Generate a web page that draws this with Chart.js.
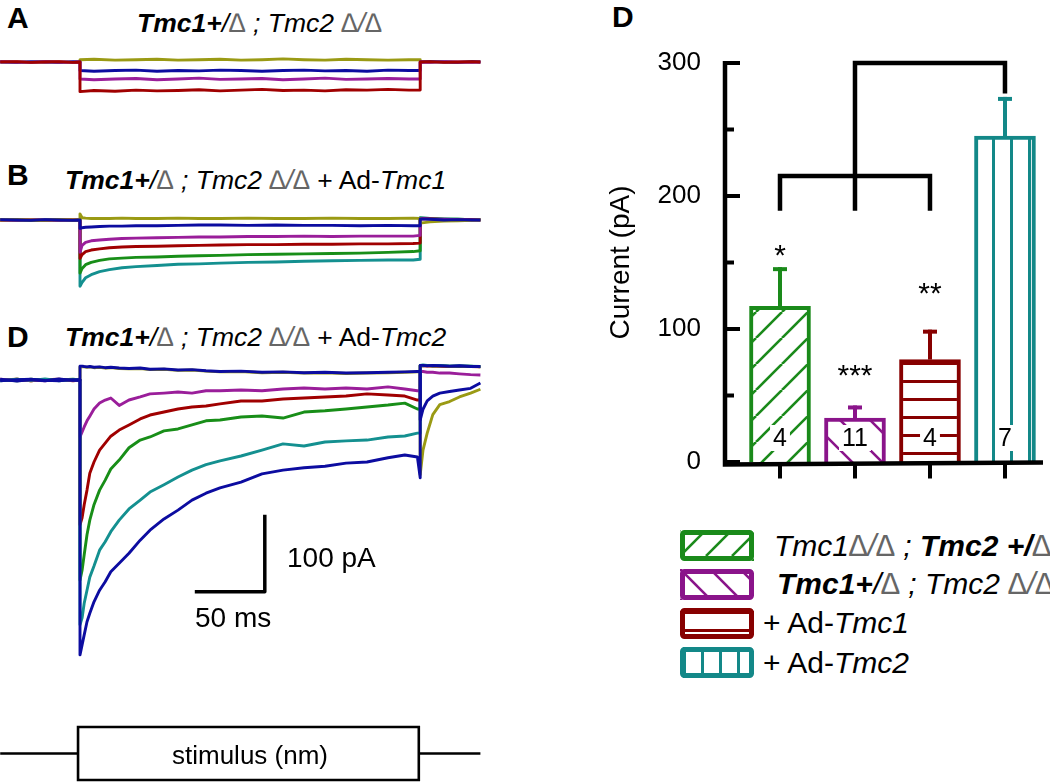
<!DOCTYPE html>
<html><head><meta charset="utf-8">
<script src="https://cdn.jsdelivr.net/npm/chart.js@4.4.1/dist/chart.umd.min.js"></script>
<style>
html,body{margin:0;padding:0;background:#fff}
body{width:1050px;height:783px;position:relative;overflow:hidden;font-family:"Liberation Sans",Arial,sans-serif;color:#000}
canvas{position:absolute;display:block}
.t{position:absolute;white-space:nowrap;line-height:1}
.lbl{font-weight:bold;font-size:30px}
.ttl{font-size:26.5px}
.lg{font-size:30px}
.dl{font-weight:normal;color:#666;font-style:italic;font-size:1.02em}
i{font-style:italic}
</style></head>
<body>
<!-- left panels -->
<div class="t lbl" style="left:7px;top:3px">A</div>
<div class="t ttl" style="left:137px;top:10px"><b><i>Tmc1+</i></b><i>/</i><span class="dl">∆</span><i> ; Tmc2 </i><span class="dl">∆/∆</span></div>
<canvas id="cA" width="490" height="70" style="left:0;top:40px"></canvas>

<div class="t lbl" style="left:7px;top:160px">B</div>
<div class="t ttl" style="left:65px;top:167px"><b><i>Tmc1+</i></b><i>/</i><span class="dl">∆</span><i> ; Tmc2 </i><span class="dl">∆/∆</span> + Ad-<i>Tmc1</i></div>
<canvas id="cB" width="490" height="110" style="left:0;top:200px"></canvas>

<div class="t lbl" style="left:7px;top:322px">D</div>
<div class="t ttl" style="left:65px;top:324px"><b><i>Tmc1+</i></b><i>/</i><span class="dl">∆</span><i> ; Tmc2 </i><span class="dl">∆/∆</span> + Ad-<i>Tmc2</i></div>
<canvas id="cD" width="490" height="320" style="left:0;top:350px"></canvas>
<div class="t" style="left:287px;top:544px;font-size:28px">100 pA</div>
<div class="t" style="left:195px;top:604px;font-size:28px">50 ms</div>

<canvas id="cS" width="490" height="68" style="left:0;top:715px"></canvas>
<div class="t" style="left:150px;width:200px;text-align:center;top:742px;font-size:26px">stimulus (nm)</div>

<!-- right panel -->
<div class="t lbl" style="left:612px;top:2px">D</div>
<canvas id="cBar" width="450" height="500" style="left:600px;top:0"></canvas>

<canvas id="sw0" width="74" height="31" style="left:680px;top:530px"></canvas>
<canvas id="sw1" width="74" height="31" style="left:680px;top:569px"></canvas>
<canvas id="sw2" width="74" height="31" style="left:680px;top:608px"></canvas>
<canvas id="sw3" width="74" height="31" style="left:680px;top:647px"></canvas>
<div class="t lg" style="left:774px;top:530px"><i>Tmc1</i><span class="dl">∆/∆</span><i> ; </i><b><i>Tmc2 +/</i></b><span class="dl">∆</span></div>
<div class="t lg" style="left:777px;top:568px"><b><i>Tmc1+</i></b><i>/</i><span class="dl">∆</span><i> ; Tmc2 </i><span class="dl">∆/∆</span></div>
<div class="t lg" style="left:763px;top:608px">+ Ad-<i>Tmc1</i></div>
<div class="t lg" style="left:763px;top:648px">+ Ad-<i>Tmc2</i></div>

<script>
// ================= DATA =================
// Panel A: Tmc1+/Δ ; Tmc2 Δ/Δ  (time in ms, current in pA)
const timeA = [-57,-45,-35,-25,-15,-5,0, 0,10,25,40,55,70,85,100,115,130,145,160,175,190,205,220,235,243, 243,250,260,270,280,286];
const redA    = [0,0.5,-0.5,0,0.5,-0.5,0, -38.5,-37,-38,-36.5,-37.5,-37,-36,-37.5,-36.5,-35.5,-37,-36.5,-37.5,-36,-36.5,-35.5,-36.5,-36.5, 0,0.5,-0.5,0,0.5,0];
const purpleA = [0.5,0,-0.5,0.5,0,-0.5,0, -22,-23,-22,-21.5,-23,-22,-21,-22.5,-22,-21.5,-23,-22,-21,-22.5,-22,-21.5,-22,-22, 0,-0.5,0.5,0,-0.5,0];
const blueA   = [0,-0.5,0.5,0,-0.5,0.5,0, -11,-12,-11,-10.5,-12,-11,-11.5,-10.5,-11,-12,-11,-10.5,-11.5,-11,-12,-10.5,-11,-11, 0,0.5,0,-0.5,0.5,0];
const oliveA  = [0.5,0,-0.5,0.5,0,-0.5,0, 3,3.5,2.5,3,3.5,2.5,3,3.5,2.5,3,4,3,2.5,3.5,3,2.5,3,3, 0.5,0,0.5,-0.5,0,0];

// Panel B: + Ad-Tmc1
const timeB = [-57,-45,-35,-25,-15,-5,0, 0,1.5,4,8,14,21,30,40,55,70,85,100,120,140,160,180,200,220,238,243, 243,250,260,270,280,286];
const tealB   = [0.5,-0.5,0,0.5,-0.5,0.5,0, -86,-81,-75,-71,-67,-64.5,-62,-60.5,-59,-57.5,-57,-56,-55,-54.5,-53.5,-53,-52.5,-52,-52,-51, 3,2,1.5,1,0.5,0];
const greenB  = [0,0.5,-0.5,0,0.5,-0.5,0, -69,-63,-58,-55,-52.5,-50.5,-49.5,-48.5,-48,-47,-46.5,-46,-45,-44.5,-44,-43.5,-43,-42,-41,-40, 2.5,2,1,1,0.5,0.5];
const redB    = [-0.5,0,0.5,-0.5,0,0.5,0, -50,-45,-41,-39,-37.5,-36,-35,-34.5,-34,-33.5,-33,-32.5,-32,-32,-31.5,-31.5,-31,-31,-30.5,-30, 2,1.5,0.5,0,0.5,0];
const purpleB = [0,-0.5,0.5,0,-0.5,0,0, -42,-33,-29,-27,-26,-25,-24,-23.5,-23,-22.5,-22,-22,-21.5,-21.5,-21,-21.5,-21,-21,-21,-20, 2,1.5,1,0.5,0,0];
const blueB   = [0.5,0,-0.5,0.5,0,-0.5,0, -11,-10,-9.5,-9,-8.5,-8,-8,-7.5,-7.5,-7,-6.5,-6.5,-7,-6.5,-7,-7,-7.5,-7,-7.5,-7.5, 1.5,1,0,0.5,0,0];
const oliveB  = [0,0.5,0,-0.5,0.5,0,0, 8,3,2.5,2,2,2,2.5,2,2,2.5,2,2,2.5,2,2,2.5,2,2,2.5,2, -4,-2.5,-1.5,-1,-0.5,0];

// Panel D: + Ad-Tmc2
const timeD = [-57,-45,-35,-25,-15,-5,0,
  0,1.5,3,5,7,10,14,18,22,28,35,43,50,60,70,80,90,100,115,130,145,160,175,190,205,220,232,241,243,
  243,245,248,252,257,264,271,279,286];
const bigBlueD = [1,-1.5,0.5,-1,1.5,-0.5,0,
  -357,-344,-331,-314,-303,-288,-273,-262,-249,-238,-225,-208,-195,-180.5,-169,-156,-147,-140,-132.5,-122,-117,-114,-112,-108,-106.5,-101,-97.4,-100,-127,
  19,19,18.5,19,18.5,18,18.5,17.5,17.5];
const tealD = [-1,1,-0.5,1.5,-1,0.5,0,
  -318,-309,-290,-273,-256,-241.6,-221,-210,-197,-182,-167.5,-156,-145.5,-136,-126,-117,-110,-105,-98.7,-91,-83,-85.7,-80.5,-79,-78,-74,-72.7,-69,-69,
  19,19.5,19,18.5,19,18,18.5,18,17.5];
const greenD = [0.5,-1,1,-0.5,0,1,0,
  -260,-247,-227,-201,-182,-162,-143,-130,-115.6,-104,-88,-78,-74,-66,-63.6,-58.4,-53,-52,-48,-46.8,-49.4,-41.6,-40,-37.7,-35,-32.5,-30,-37.7,-38,
  19,18.5,19,18,18.5,18,17.5,18,17];
const redD = [-0.5,1,-1,0.5,1,-1,0,
  -188,-179,-162,-143,-121,-106.5,-91,-82,-73,-65,-58.4,-50.6,-45.5,-41.6,-37.7,-35,-33.8,-31,-27.3,-27.3,-24.7,-23.4,-22,-20.8,-18,-19.5,-20.8,-26,-26,
  18.5,18.5,18,18.5,18,17.5,18,17.5,17];
const purpleD = [1,-0.5,0,-1,0.5,-0.5,0,
  -74,-67.5,-61,-53,-47,-37.7,-30,-26,-23.4,-33,-26,-22,-18,-17,-15.6,-17,-14,-14,-13,-14,-11.7,-10.4,-11.7,-10.4,-11.7,-9,-11.7,-14,-14,
  11,11,10,10,9,9,8,7,6.5];
const smallBlueD = [-1,0.5,1,-0.5,-1,0.5,0,
  18,18,17.5,17,17.5,16.5,17,16,16.5,15.5,15,15.5,14,14.5,13,13.5,12,11,11.5,10,10.5,9.5,10,9,9.5,10,10.5,11,11,
  -52,-38,-27,-21,-17,-15,-13,-10.8,-4];
const oliveD = [0,1,-1,0.5,0,-0.5,0,
  17,17.5,17,16.5,17,16,16.5,15.5,16,15,14.5,15,13.5,14,12.5,13,11.5,10.5,11,9.5,10,9,9.5,8.5,9,9.5,10,10.5,10.5,
  -123,-91,-69,-45,-32,-28,-22,-17,-12];

// scale bar (50 ms, 100 pA)
const scaleBarTime = [82,132,132];
const scaleBarCurrent = [-275,-275,-175];

// stimulus schematic (relative level)
const stimTime  = [-57,-1.4,-1.4,242,242,-1.4,-1.4];
const stimLevel = [0.5,0.5,1,1,0,0,0.5];
const stimTailTime  = [242,286];
const stimTailLevel = [0.5,0.5];

// Bar chart
const categories = ['Tmc1Δ/Δ ; Tmc2 +/Δ', 'Tmc1+/Δ ; Tmc2 Δ/Δ', '+ Ad-Tmc1', '+ Ad-Tmc2'];
const meanCurrent = [117, 33, 77, 245];
const semCurrent  = [28, 8, 21, 28];
const nCells = [4, 11, 4, 7];
const stars = ['*', '***', '**', ''];
const yTicks = [0, 100, 200, 300];
// significance brackets (pA)
const bracketLow = 215, bracketLowLeg = 189, bracketTop = 300, bracketTopLeg = 277;

// ================= STYLE =================
const FONT = '"Liberation Sans", Arial, sans-serif';
const PX_PER_MS = 1.4, PX_PER_PA = 0.77, X0_PX = 80, PANEL_W = 490;
const TRACE_W = 2.9;
const C = {olive:'#9a9a14', blue:'#0c0ca0', purple:'#9a1e9a', red:'#a00000', green:'#188e18', teal:'#149090'};
const barColors = ['#1a8a1a', '#8a148a', '#870000', '#138888'];
const patternKinds = ['fwd', 'back', 'horiz', 'vert'];

function traceChart(id, topPx, heightPx, baseY, traces) {
  const datasets = traces.map(tr => ({
    data: tr.t.map((t, i) => ({x: t, y: tr.v[i]})),
    borderColor: tr.c, borderWidth: tr.w || TRACE_W, pointRadius: 0, fill: false,
    tension: 0, clip: false, borderJoinStyle: 'round', borderCapStyle: 'butt'
  }));
  return new Chart(document.getElementById(id), {
    type: 'line', data: {datasets},
    options: {
      responsive: false, animation: false, devicePixelRatio: 1, events: [],
      layout: {padding: 0},
      plugins: {legend: {display: false}, tooltip: {enabled: false}},
      scales: {
        x: {type: 'linear', display: false, min: -X0_PX / PX_PER_MS, max: (PANEL_W - X0_PX) / PX_PER_MS},
        y: {type: 'linear', display: false, min: -(topPx + heightPx - baseY) / PX_PER_PA, max: (baseY - topPx) / PX_PER_PA}
      }
    }
  });
}

traceChart('cA', 40, 70, 62, [
  {t: timeA, v: redA, c: C.red},
  {t: timeA, v: purpleA, c: C.purple},
  {t: timeA, v: blueA, c: C.blue},
  {t: timeA, v: oliveA, c: C.olive}
]);
traceChart('cB', 200, 110, 220, [
  {t: timeB, v: blueB, c: C.blue},
  {t: timeB, v: oliveB, c: C.olive},
  {t: timeB, v: purpleB, c: C.purple},
  {t: timeB, v: redB, c: C.red},
  {t: timeB, v: greenB, c: C.green},
  {t: timeB, v: tealB, c: C.teal}
]);
traceChart('cD', 350, 320, 380, [
  {t: scaleBarTime, v: scaleBarCurrent, c: '#000', w: 3.5},
  {t: timeD, v: bigBlueD, c: C.blue},
  {t: timeD, v: smallBlueD, c: C.blue},
  {t: timeD, v: tealD, c: C.teal},
  {t: timeD, v: purpleD, c: C.purple},
  {t: timeD, v: redD, c: C.red},
  {t: timeD, v: greenD, c: C.green},
  {t: timeD, v: oliveD, c: C.olive}
]);

// stimulus: level 1 at y=727px, level 0 at y=780px, canvas top 715, height 68
(function(){
  const top = 715, h = 68, y1 = 727, y0 = 780, ppu = y0 - y1;
  const mk = (t, v) => t.map((x, i) => ({x, y: v[i]}));
  new Chart(document.getElementById('cS'), {
    type: 'line',
    data: {datasets: [
      {data: mk(stimTime, stimLevel), borderColor: '#000', borderWidth: 2.6, pointRadius: 0, tension: 0, clip: false, borderJoinStyle: 'miter'},
      {data: mk(stimTailTime, stimTailLevel), borderColor: '#000', borderWidth: 2.6, pointRadius: 0, tension: 0, clip: false}
    ]},
    options: {
      responsive: false, animation: false, devicePixelRatio: 1, events: [], layout: {padding: 0},
      plugins: {legend: {display: false}, tooltip: {enabled: false}},
      scales: {
        x: {type: 'linear', display: false, min: -X0_PX / PX_PER_MS, max: (PANEL_W - X0_PX) / PX_PER_MS},
        y: {type: 'linear', display: false, min: -(top + h - y0) / ppu, max: 1 + (y1 - top) / ppu}
      }
    }
  });
})();

// ---------- patterns ----------
function makeTile(kind, color, shift) {
  const c = document.createElement('canvas');
  const g = c.getContext('2d');
  let w, h;
  if (kind === 'fwd') { w = h = 26; }
  else if (kind === 'back') { w = h = 30; }
  else if (kind === 'horiz') { w = 8; h = 18; }
  else { w = 18; h = 8; }
  c.width = w; c.height = h;
  g.fillStyle = '#fff'; g.fillRect(0, 0, w, h);
  g.strokeStyle = color; g.fillStyle = color; g.lineWidth = 2.6;
  if (kind === 'fwd') {
    for (let k = -1; k <= 1; k++) { g.beginPath(); g.moveTo(k * w, h); g.lineTo(k * w + w, 0); g.stroke(); }
  } else if (kind === 'back') {
    for (let k = -1; k <= 1; k++) { g.beginPath(); g.moveTo(k * w, 0); g.lineTo(k * w + w, h); g.stroke(); }
  } else if (kind === 'horiz') {
    g.fillRect(0, shift, w, 3);
  } else {
    g.fillRect(shift, 0, 3, h);
  }
  return c;
}

// ---------- bar chart ----------
const barCanvas = document.getElementById('cBar');
const bctx = barCanvas.getContext('2d');
const barShift = {fwd: 0, back: 0, horiz: 2, vert: 14};
const barPatterns = patternKinds.map((k, i) => bctx.createPattern(makeTile(k, barColors[i], barShift[k]), 'repeat'));

const decor = {
  id: 'decor',
  afterDatasetsDraw(chart) {
    const {ctx, scales: {x, y}} = chart;
    const xp = i => x.getPixelForValue(i + 1);
    ctx.save();
    // error bars
    meanCurrent.forEach((m, i) => {
      const px = xp(i), y0 = y.getPixelForValue(m), y1 = y.getPixelForValue(m + semCurrent[i]);
      ctx.strokeStyle = barColors[i]; ctx.lineWidth = 4; ctx.lineCap = 'butt';
      ctx.beginPath(); ctx.moveTo(px, y0); ctx.lineTo(px, y1 - 2); ctx.stroke();
      ctx.beginPath(); ctx.moveTo(px - 7, y1); ctx.lineTo(px + 7, y1); ctx.stroke();
    });
    // n labels with white box
    ctx.font = '25px ' + FONT; ctx.textAlign = 'center'; ctx.textBaseline = 'middle';
    nCells.forEach((n, i) => {
      const px = xp(i), py = y.getPixelForValue(0) - 24, tw = ctx.measureText(String(n)).width;
      ctx.fillStyle = '#fff'; ctx.fillRect(px - tw / 2 - 3, py - 13, tw + 6, 26);
      ctx.fillStyle = '#000'; ctx.fillText(String(n), px, py + 1);
    });
    // stars (centre offset above error-bar cap, px)
    const starOff = [21, 39, 46];
    ctx.font = '30px ' + FONT; ctx.textBaseline = 'alphabetic';
    stars.forEach((s, i) => {
      if (!s) return;
      const yc = y.getPixelForValue(meanCurrent[i] + semCurrent[i]) - starOff[i];
      ctx.fillText(s, xp(i), yc + 17);
    });
    // brackets
    ctx.strokeStyle = '#000'; ctx.lineWidth = 4.5; ctx.lineJoin = 'miter'; ctx.lineCap = 'butt';
    ctx.beginPath();
    ctx.moveTo(xp(0), y.getPixelForValue(bracketLowLeg));
    ctx.lineTo(xp(0), y.getPixelForValue(bracketLow));
    ctx.lineTo(xp(2), y.getPixelForValue(bracketLow));
    ctx.lineTo(xp(2), y.getPixelForValue(bracketLowLeg));
    ctx.stroke();
    ctx.beginPath();
    ctx.moveTo(xp(1), y.getPixelForValue(bracketLowLeg));
    ctx.lineTo(xp(1), y.getPixelForValue(bracketTop));
    ctx.lineTo(xp(3), y.getPixelForValue(bracketTop));
    ctx.lineTo(xp(3), y.getPixelForValue(bracketTopLeg));
    ctx.stroke();
    // axes
    const ca = chart.chartArea, ax = ca.left + 2, ay = y.getPixelForValue(0) + 0.5;
    ctx.lineWidth = 4.5;
    ctx.beginPath(); ctx.moveTo(ax, y.getPixelForValue(300) - 2); ctx.lineTo(ax, ay + 2); ctx.lineTo(ca.right, ay); ctx.stroke();
    ctx.lineWidth = 4;
    for (let v = 0; v <= 300; v += 50) {
      const py = y.getPixelForValue(v), len = v % 100 === 0 ? 15 : 9;
      ctx.beginPath(); ctx.moveTo(ax, py); ctx.lineTo(ax + len, py); ctx.stroke();
    }
    meanCurrent.forEach((m, i) => {
      ctx.beginPath(); ctx.moveTo(xp(i), ay); ctx.lineTo(xp(i), ay + 16); ctx.stroke();
    });
    ctx.restore();
  }
};

new Chart(barCanvas, {
  type: 'bar',
  data: {
    labels: categories,
    datasets: [{
      label: 'Current',
      data: meanCurrent.map((m, i) => ({x: i + 1, y: m})),
      backgroundColor: barPatterns,
      borderColor: barColors,
      borderWidth: 4,
      borderSkipped: 'start',
      barThickness: 61
    }]
  },
  options: {
    responsive: false, animation: false, devicePixelRatio: 1, events: [],
    layout: {padding: {top: 63, right: 7, left: 0, bottom: 0}},
    plugins: {legend: {display: false}, tooltip: {enabled: false}},
    scales: {
      x: {type: 'linear', min: 0.24, max: 4.507, offset: false,
          ticks: {display: false}, grid: {display: false, drawTicks: false}, border: {display: false},
          afterFit: s => { s.height = 38; }},
      y: {min: 0, max: 300,
          ticks: {stepSize: 50, callback: v => (yTicks.includes(v) ? String(v) : ''), color: '#000', font: {family: FONT, size: 26}, padding: 22},
          grid: {display: false, drawTicks: false}, border: {display: false},
          title: {display: true, text: 'Current (pA)', color: '#000', font: {family: FONT, size: 28}, padding: {top: 4, bottom: 0}},
          afterFit: s => { s.width = 123; }}
    }
  },
  plugins: [decor]
});

// ---------- legend swatches ----------
patternKinds.forEach((k, i) => {
  const cv = document.getElementById('sw' + i), g = cv.getContext('2d');
  const shift = (k === 'horiz' || k === 'vert') ? 3 : 0;
  g.fillStyle = g.createPattern(makeTile(k, barColors[i], shift), 'repeat');
  g.fillRect(0, 0, cv.width, cv.height);
  g.strokeStyle = barColors[i]; g.lineWidth = 5; g.lineJoin = 'round';
  g.beginPath(); g.roundRect(2.5, 2.5, cv.width - 5, cv.height - 5, 2); g.stroke();
});
</script>
</body></html>
